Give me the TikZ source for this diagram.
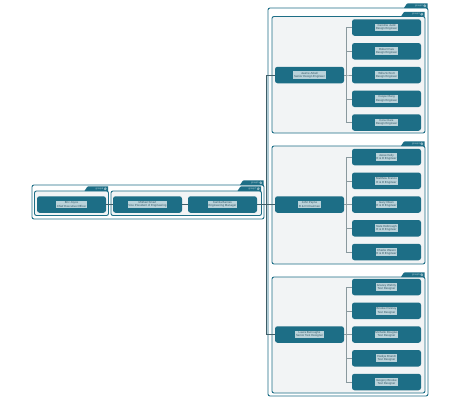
\documentclass[tikz,border=0pt]{standalone}
\usepackage{fontspec}
\setmainfont{Liberation Sans}
\definecolor{teal1}{HTML}{1D6E86}
\definecolor{lab}{HTML}{B9D2DA}
\definecolor{labtxt}{HTML}{2E5563}
\definecolor{gfill}{HTML}{F2F4F5}
\definecolor{conndark}{HTML}{3F5E68}
\definecolor{connlight}{HTML}{8A999E}
\tikzset{
  pbox/.style={fill=teal1, rounded corners=2.5pt, minimum width=69pt, minimum height=16.5pt, inner sep=0pt},
  plab/.style={fill=lab, inner sep=0.9pt, font=\fontsize{2.9}{3.3}\selectfont, text=labtxt, align=center},
  gbox/.style={draw=teal1, line width=0.9pt, fill=gfill, rounded corners=2pt},
  obox/.style={draw=teal1, line width=0.9pt, fill=white, rounded corners=2pt},
  tabtxt/.style={font=\fontsize{2.4}{2.6}\selectfont, text=lab, inner sep=0pt, anchor=east},
  connA/.style={draw=conndark, line width=0.45pt},
  connB/.style={draw=connlight, line width=0.45pt},
}
\newcommand\person[5]{%
  \node[pbox] (#1) at (#2,#3) {};
  \node[plab] (#1l) at (#1) {#4\\#5};
}
\newcommand\grptab[4]{% name, right x, top y of box, text
  \fill[teal1] (#2-0.5,#3) -- (#2-0.5,#3-4.6) [rounded corners=0.8pt] -- (#2-21,#3-4.6) [sharp corners] -- (#2-24,#3) -- cycle;
  \node[tabtxt] (#1) at (#2-5.2,#3-2.3) {#4};
  \draw[lab, line width=0.25pt] (#2-3.3,#3-2.3) circle (1.2pt);
  \draw[lab, line width=0.2pt] (#2-4.1,#3-3.1) -- (#2-2.5,#3-1.5) (#2-4.1,#3-1.5) -- (#2-2.5,#3-3.1);
}
\begin{document}
\begin{tikzpicture}[x=1pt,y=-1pt]
\useasboundingbox (0,0) rectangle (460,400);
\fill[white] (0,0) rectangle (460,400);

% left groups
\draw[obox] (32,185) rectangle (264,219);
\grptab{t1}{264}{185}{group1}
\draw[gbox] (34.5,191) rectangle (108.5,215.5);
\grptab{t6}{108.5}{191}{group6}
\draw[gbox] (111,191) rectangle (261.5,215.5);
\grptab{t7}{261.5}{191}{group7}

% right groups
\draw[obox] (268,8) rectangle (428,396);
\grptab{t2}{428}{8}{group2}
\draw[gbox] (272,16.5) rectangle (425,133);
\grptab{t3}{425}{16.5}{group3}
\draw[gbox] (272,146) rectangle (425,264);
\grptab{t4}{425}{146}{group4}
\draw[gbox] (272,277) rectangle (425,393);
\grptab{t5}{425}{277}{group5}

% nodes
\person{ceo}{71.5}{204.5}{Eric Joyce}{Chief Executive Officer}
\person{vp}{147.5}{204.5}{Mikhail Smart}{Vice President of Engineering}
\person{mgr}{222.5}{204.5}{Kamila Barnes}{Engineering Manager}

\person{sd}{309.5}{75}{Jaume Arbell}{Senior Design Engineer}
\person{rd}{309.5}{204.5}{John Payne}{R \& D Chairman}
\person{st}{309.5}{334.5}{Laura Burroughs}{Senior Test Designer}

\person{d1}{386.5}{27.5}{Caroline Judd}{Design Engineer}
\person{d2}{386.5}{51.25}{Robert Fais}{Design Engineer}
\person{d3}{386.5}{75}{Willa Schrott}{Design Engineer}
\person{d4}{386.5}{98.75}{Cooper Berg}{Design Engineer}
\person{d5}{386.5}{122.5}{Cora Clare}{Design Engineer}

\person{r1}{386.5}{157}{Jesse Kelly}{R \& D Engineer}
\person{r2}{386.5}{180.75}{Matthew Franco}{R \& D Engineer}
\person{r3}{386.5}{204.5}{Gary Olsen}{R \& D Engineer}
\person{r4}{386.5}{228.25}{Nate Delbrough}{R \& D Engineer}
\person{r5}{386.5}{252}{Charlie Wason}{R \& D Engineer}

\person{e1}{386.5}{287}{Gracey Wehrly}{Test Designer}
\person{e2}{386.5}{310.75}{Brooke Penney}{Test Designer}
\person{e3}{386.5}{334.5}{Michelle Douglas}{Test Designer}
\person{e4}{386.5}{358.25}{Hadiya Brandt}{Test Designer}
\person{e5}{386.5}{382}{Gregory Brooke}{Test Designer}

% connectors
\draw[connA] (ceo.east) -- (vp.west);
\draw[connA] (vp.east) -- (mgr.west);
\coordinate (bus) at (265.8,204.5);
\draw[connA] (mgr.east) -- (bus);
\draw[connA] (bus) |- (sd.west);
\draw[connA] (bus) -- (rd.west);
\draw[connA] (bus) |- (st.west);

\foreach \j in {d1,d2,d3,d4,d5}{\draw[connB] (sd.east) -- ++(2,0) |- (\j.west);}
\foreach \j in {r1,r2,r3,r4,r5}{\draw[connB] (rd.east) -- ++(2,0) |- (\j.west);}
\foreach \j in {e1,e2,e3,e4,e5}{\draw[connB] (st.east) -- ++(2,0) |- (\j.west);}
\end{tikzpicture}
\end{document}
